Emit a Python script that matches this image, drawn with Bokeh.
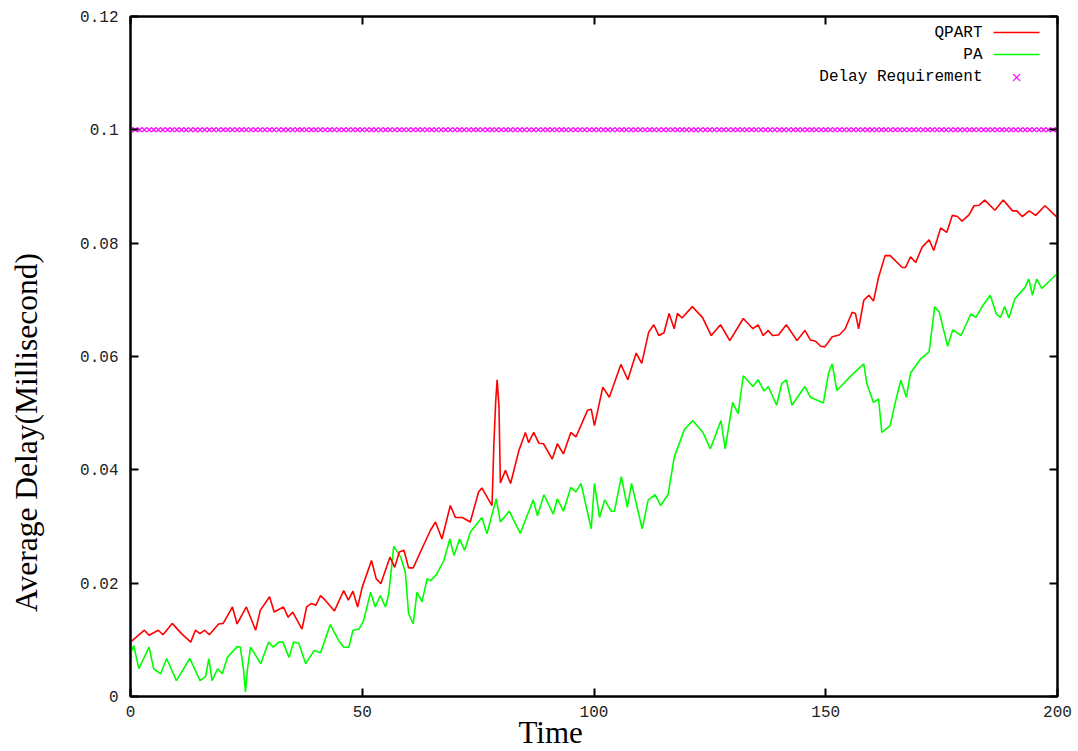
import math
from bokeh.plotting import figure
from bokeh.models import (Range1d, FixedTicker, LinearAxis, Label, Arrow, Title)
from bokeh.embed import file_html
from bokeh.resources import INLINE

# ---------------- data ----------------
qpart_t = [0, 3, 4, 6, 7, 9, 11, 13, 14, 15, 16, 17, 19, 20, 22, 23, 25, 27, 28, 30,
           31, 33, 34, 35, 37, 38, 39, 40, 41, 42, 44, 46, 47, 48, 49, 50, 52, 53, 54, 56,
           57, 58, 59, 60, 61, 63, 64.7, 65.8, 67.2, 69, 70.1, 71.6, 73.3, 75.1, 75.8, 78.0,
           78.4, 78.8, 79.1, 79.5, 79.8, 80.9, 82.0, 83.8, 85.2, 85.9, 87.0, 88.1, 89.1, 91.0,
           92.1, 93.4, 95.0, 96.1, 98.6, 99.4, 100.1, 101.9, 103.3, 105.8, 107.3, 109.1, 110.3,
           111.8, 112.9, 114.0, 115.1, 116.2, 117.3, 118.0, 119.0, 121.2, 123.4, 125.3, 127.3,
           129.3, 132.2, 134.3, 135.4, 136.5, 137.6, 138.5, 139.8, 141.5, 143.8, 145.5, 146.7,
           147.8, 148.9, 149.8, 151.4, 152.9, 154.2, 155.7, 156.4, 157.1, 158.2, 159.3, 160.3,
           161.4, 162.8, 163.9, 166.5, 167.2, 168.3, 169.4, 170.8, 172.3, 173.3, 174.8, 176.1,
           177.3, 178.4, 179.4, 180.9, 182.0, 183.1, 184.3, 186.5, 188.3, 190.3, 191.2, 192.4,
           193.9, 195.3, 197.3, 200]
qpart_v = [0.0096, 0.0117, 0.0108, 0.0117, 0.0109, 0.0129, 0.0111, 0.0096, 0.0117, 0.0111,
           0.0117, 0.0109, 0.0128, 0.0129, 0.0158, 0.0128, 0.0158, 0.0117, 0.0152, 0.0176,
           0.0149, 0.0158, 0.0140, 0.0149, 0.0119, 0.0158, 0.0164, 0.0161, 0.0178, 0.0170,
           0.0151, 0.0187, 0.0170, 0.0186, 0.0158, 0.0193, 0.0240, 0.0208, 0.0199, 0.0246,
           0.0228, 0.0255, 0.0258, 0.0227, 0.0227, 0.0263, 0.0293, 0.0308, 0.0278, 0.0337,
           0.0316, 0.0316, 0.0308, 0.0361, 0.0368, 0.0337,
           0.0446, 0.0522, 0.0559, 0.0512, 0.0377, 0.0399, 0.0376, 0.0434, 0.0466, 0.0448,
           0.0466, 0.0447, 0.0446, 0.0419,
           0.0446, 0.0428, 0.0466, 0.0458, 0.0505, 0.0507, 0.0478, 0.0546, 0.0528, 0.0586,
           0.0559, 0.0606, 0.0588,
           0.0643, 0.0656, 0.0637, 0.0642, 0.0676, 0.0649, 0.0676, 0.0668, 0.0688, 0.0669,
           0.0637, 0.0656,
           0.0628, 0.0667, 0.0649, 0.0656, 0.0637, 0.0646, 0.0637, 0.0638, 0.0656, 0.0628,
           0.0646, 0.0629,
           0.0627, 0.0618, 0.0617, 0.0635, 0.0638, 0.0649, 0.0678, 0.0676, 0.0649, 0.0699,
           0.0708, 0.0698,
           0.0740, 0.0778, 0.0778, 0.0757, 0.0757, 0.0776, 0.0766, 0.0793, 0.0806, 0.0787,
           0.0827, 0.0819,
           0.0849, 0.0847, 0.0839, 0.0850, 0.0866, 0.0867, 0.0876, 0.0858, 0.0876, 0.0857,
           0.0857, 0.0847,
           0.0857, 0.0849, 0.0866, 0.0845]

pa_t = [0, 0.7, 1.8, 4.0, 5.0, 6.5, 7.8, 9.9, 12.8, 15.0, 16.2, 16.9, 17.6, 18.8, 19.8,
        20.9, 23.0, 23.7, 24.4, 24.8, 25.2, 25.9, 28.1, 29.8, 30.8, 32.0, 32.9, 34.2, 35.2,
        36.3, 37.8, 39.6, 41.0, 43.1, 44.9, 46.0, 47.1, 48.0, 49.3, 50.3, 51.8, 52.8, 53.9,
        55.0, 55.7, 56.8, 58.3, 59.3, 60.0, 61.0, 61.8, 62.9, 64.0, 64.7, 66.0, 67.6, 68.9,
        69.8, 71.0, 72.1, 73.3, 75.8, 76.9, 78.9, 79.8, 81.7, 84.1, 86.9, 87.8, 89.2, 91.2,
        92.1, 93.4, 95.0, 96.1, 97.2, 99.4, 100.1, 101.2, 102.3, 103.7, 104.4, 105.9, 107.2,
        108.1, 110.4, 111.7, 113.2, 114.4, 116.0, 117.3, 119.5, 121.3, 123.5, 125.1, 127.4,
        128.3, 129.9, 131.1, 132.2, 134.3, 135.4, 136.7, 137.6, 139.4, 140.5, 141.5, 142.7,
        145.5, 146.7, 149.5, 150.6, 151.4, 152.4, 155.7, 158.2, 158.9, 160.3, 161.4, 162.1,
        163.9, 165.0, 166.2, 167.4, 168.3, 170.5, 172.3, 173.5, 174.5, 176.3, 177.4, 179.2,
        181.3, 182.4, 183.9, 185.5, 186.8, 187.7, 188.6, 189.5, 190.8, 193.0, 193.8, 194.6,
        195.5, 196.6, 200]
pa_v = [0.0075, 0.0090, 0.0049, 0.0087, 0.0049, 0.0040, 0.0067, 0.0028, 0.0067, 0.0028,
        0.0035, 0.0067, 0.0028, 0.0049, 0.0040,
        0.0069, 0.0088, 0.0087, 0.0046, 0.0008, 0.0046, 0.0087, 0.0058, 0.0096, 0.0087,
        0.0096, 0.0096, 0.0069, 0.0096,
        0.0094, 0.0058, 0.0081, 0.0077, 0.0127, 0.0099, 0.0087, 0.0087, 0.0117, 0.0119,
        0.0134, 0.0184, 0.0158, 0.0178,
        0.0158, 0.0180, 0.0265, 0.0246, 0.0219, 0.0146, 0.0128, 0.0184, 0.0167, 0.0208,
        0.0204, 0.0215, 0.0240, 0.0278,
        0.0249, 0.0278, 0.0258, 0.0290, 0.0316, 0.0287, 0.0349, 0.0308, 0.0327, 0.0288,
        0.0347, 0.0319, 0.0356, 0.0322,
        0.0349, 0.0327, 0.0369, 0.0361, 0.0376, 0.0296, 0.0376, 0.0316, 0.0347, 0.0327,
        0.0327, 0.0388, 0.0334,
        0.0376, 0.0296, 0.0347, 0.0356, 0.0337, 0.0357, 0.0422, 0.0471, 0.0487, 0.0466,
        0.0437, 0.0487,
        0.0437, 0.0519, 0.0499, 0.0566, 0.0547, 0.0559, 0.0539, 0.0547, 0.0514, 0.0552,
        0.0559, 0.0514,
        0.0547, 0.0528, 0.0518, 0.0571, 0.0587, 0.0540, 0.0568, 0.0587, 0.0551, 0.0519,
        0.0525, 0.0466,
        0.0478, 0.0519, 0.0558, 0.0528, 0.0571, 0.0596, 0.0608, 0.0688, 0.0678, 0.0618,
        0.0647, 0.0637,
        0.0675, 0.0669, 0.0690, 0.0708, 0.0675, 0.0669, 0.0688, 0.0668, 0.0702, 0.0722,
        0.0737, 0.0708,
        0.0737, 0.0720, 0.0747]

delay_t = list(range(0, 201))
delay_v = [0.1] * len(delay_t)

x_ticks = [0, 50, 100, 150, 200]
y_ticks = [0, 0.02, 0.04, 0.06, 0.08, 0.1, 0.12]
y_tick_labels = ["0", "0.02", "0.04", "0.06", "0.08", "0.1", "0.12"]

series_names = ["QPART", "PA", "Delay Requirement"]
series_colors = ["#ff0000", "#00ff00", "#ff00ff"]

# ---------------- figure ----------------
MONO = "Liberation Mono"
SERIF = "Liberation Serif"

p = figure(width=1078, height=751, output_backend="svg", toolbar_location=None,
           x_range=Range1d(0, 200), y_range=Range1d(0, 0.12),
           min_border_left=130, min_border_right=21, min_border_top=16, min_border_bottom=55,
           x_axis_type=None, y_axis_type=None)
p.grid.visible = False
p.outline_line_color = "black"
p.outline_line_width = 2
p.background_fill_color = "white"
p.border_fill_color = "white"

def make_axis(ticks, labels=None, show_labels=True):
    ax = LinearAxis(ticker=FixedTicker(ticks=ticks))
    ax.major_tick_in = 8
    ax.major_tick_out = 0
    ax.major_tick_line_color = "black"
    ax.major_tick_line_width = 2
    ax.minor_tick_line_color = None
    ax.axis_line_color = "black"
    ax.axis_line_width = 2
    if show_labels:
        if labels is not None:
            ax.major_label_overrides = {t: l for t, l in zip(ticks, labels)}
        ax.major_label_text_font = MONO
        ax.major_label_text_font_size = "16px"
        ax.major_label_text_color = "#222222"
    else:
        ax.major_label_overrides = {t: "" for t in ticks}
        ax.major_label_text_font_size = "1px"
        ax.major_label_standoff = 0
    return ax

xb = make_axis(x_ticks)
xb.major_label_standoff = 9
p.add_layout(xb, "below")
yl = make_axis(y_ticks, y_tick_labels)
yl.major_label_standoff = 12
p.add_layout(yl, "left")
p.add_layout(make_axis(x_ticks, show_labels=False), "above")
p.add_layout(make_axis(y_ticks, show_labels=False), "right")

# ---------------- axis titles ----------------
p.add_layout(Title(text="Time", align="left", offset=388, standoff=-10, vertical_align="top",
                   text_font=SERIF, text_font_size="31px", text_font_style="normal",
                   text_color="black"), "below")
p.add_layout(Label(x=-16, y=264, x_units="screen", y_units="screen",
                   text="Average Delay(Millisecond)", angle=math.pi / 2,
                   text_font=SERIF, text_font_size="31.5px", text_align="center",
                   text_baseline="middle", text_color="black"), "left")

# ---------------- data renderers ----------------
p.scatter(delay_t, delay_v, marker="x", size=6.5, line_color=series_colors[2], line_width=1.3)
p.line(pa_t, pa_v, line_color=series_colors[1], line_width=1.6)
p.line(qpart_t, qpart_v, line_color=series_colors[0], line_width=1.6)

# ---------------- legend (gnuplot style: text left, sample right) ----------------
leg_y = [664, 642, 620]
for i, name in enumerate(series_names):
    p.add_layout(Label(x=852, y=leg_y[i], x_units="screen", y_units="screen", text=name,
                       text_font=MONO, text_font_size="16px", text_align="right",
                       text_baseline="middle", text_color="black"))
for i in range(2):
    p.add_layout(Arrow(x_start=863, y_start=leg_y[i], x_end=909, y_end=leg_y[i],
                       start_units="screen", end_units="screen", start=None, end=None,
                       line_color=series_colors[i], line_width=1.6))
p.add_layout(Label(x=886, y=leg_y[2], x_units="screen", y_units="screen", text="×",
                   text_font="DejaVu Sans", text_font_size="14px", text_align="center",
                   text_baseline="middle", text_color=series_colors[2]))

open("out.html", "w").write(file_html(p, INLINE))
